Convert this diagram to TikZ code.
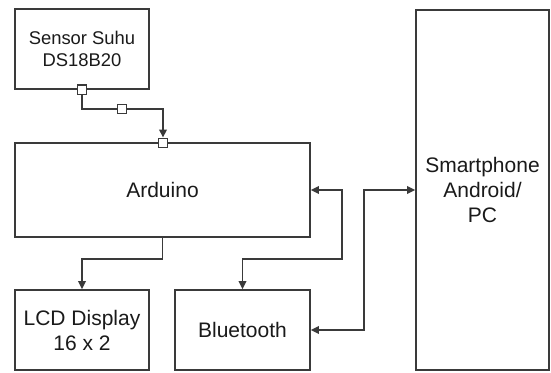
\documentclass[tikz,border=0pt]{standalone}
\usepackage{fontspec}
\setmainfont{Liberation Sans}
\usetikzlibrary{arrows.meta, calc}

\begin{document}
\begin{tikzpicture}[x=1pt, y=-1pt,
    block/.style={draw=borderColour, line width=1.7pt, fill=white, align=center,
        text=textColour, inner sep=0pt, font=\fontsize{21}{25}\selectfont},
    port/.style={draw=borderColour, line width=1.4pt, fill=white, minimum size=9.5pt, inner sep=0pt},
    link/.style={draw=borderColour, line width=1.7pt, -{Triangle[length=8pt,width=7.5pt]}},
    duplex/.style={link, {Triangle[length=8pt,width=7.5pt]}-{Triangle[length=8pt,width=7.5pt]}}]

    \definecolor{borderColour}{HTML}{3A3A3A}
    \definecolor{textColour}{HTML}{1A1A1A}

    % Fix the canvas size
    \useasboundingbox[fill=white] (0,0) rectangle (551,372);

    % Draw the blocks
    \node[block, minimum width=134pt, minimum height=80pt,
        font=\fontsize{18.4}{22}\selectfont] (sensor) at (82,49) {Sensor Suhu\\DS18B20};
    \node[block, minimum width=295pt, minimum height=94pt] (arduino) at (162.5,190) {Arduino};
    \node[block, minimum width=134pt, minimum height=80pt] (lcd) at (82,330) {LCD Display\\16 x 2};
    \node[block, minimum width=135pt, minimum height=80pt] (bt) at (242.5,330) {Bluetooth};
    \node[block, minimum width=133pt, minimum height=360pt] (phone) at (482.5,190) {Smartphone\\Android/\\PC};

    % Sensor wire with its small ports
    \node[port] (portA) at (sensor.south) {};
    \node[port] (portB) at (122,109) {};
    \node[port] (portC) at (163,143) {};
    \draw[line width=1.7pt, draw=borderColour] (portA.south) |- (portB.west);
    \draw[link] (portB.east) -| (portC.north);

    % Arduino to LCD
    \draw[link] (arduino.south) -- ++(0,21) -| (lcd.north);

    % Arduino and Bluetooth
    \draw[duplex] (arduino.east) -| ++(31,69) -| (bt.north);

    % Bluetooth and smartphone
    \draw[duplex] (bt.east) -- ++(53,0) |- (phone.west);

\end{tikzpicture}
\end{document}
